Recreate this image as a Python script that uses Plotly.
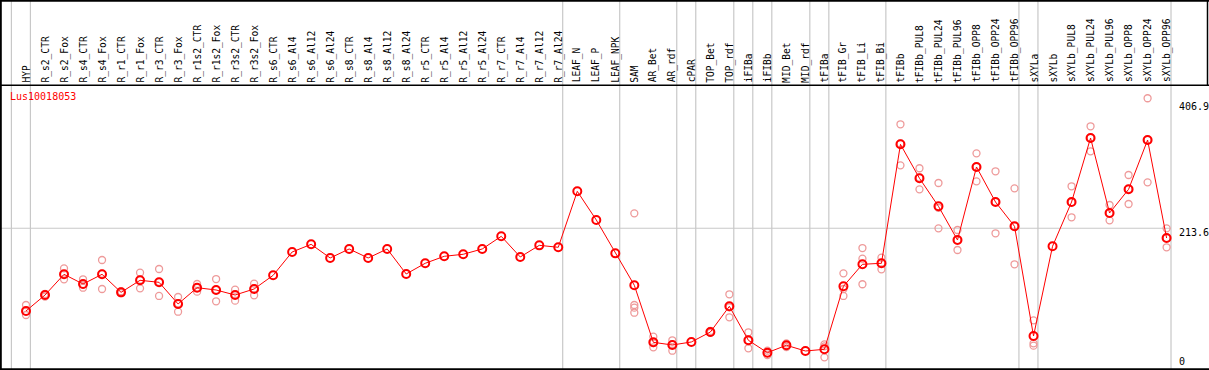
import plotly.graph_objects as go

categories = ["HYP", "R_s2_CTR", "R_s2_Fox", "R_s4_CTR", "R_s4_Fox", "R_r1_CTR", "R_r1_Fox",
              "R_r3_CTR", "R_r3_Fox", "R_r1s2_CTR", "R_r1s2_Fox", "R_r3s2_CTR", "R_r3s2_Fox",
              "R_s6_CTR", "R_s6_Al4", "R_s6_Al12", "R_s6_Al24", "R_s8_CTR", "R_s8_Al4",
              "R_s8_Al12", "R_s8_Al24", "R_r5_CTR", "R_r5_Al4", "R_r5_Al12", "R_r5_Al24",
              "R_r7_CTR", "R_r7_Al4", "R_r7_Al12", "R_r7_Al24", "LEAF_N", "LEAF_P", "LEAF_NPK",
              "SAM", "AR_Bet", "AR_rdf", "cPAR", "TOP_Bet", "TOP_rdf", "iFIBa", "iFIBb",
              "MID_Bet", "MID_rdf", "tFIBa", "tFIB_Gr", "tFIB_Li", "tFIB_Bi", "tFIBb",
              "tFIBb_PUL8", "tFIBb_PUL24", "tFIBb_PUL96", "tFIBb_OPP8", "tFIBb_OPP24",
              "tFIBb_OPP96", "sXYLa", "sXYLb", "sXYLb_PUL8", "sXYLb_PUL24", "sXYLb_PUL96",
              "sXYLb_OPP8", "sXYLb_OPP24", "sXYLb_OPP96"]

means = [90.6, 114.3, 145.1, 130.7, 145.1, 118.3, 136.2, 133.2, 101.0, 125.2,
         121.8, 114.3, 123.3, 143.6, 178.3, 189.7, 169.4, 182.8, 169.4, 182.8,
         145.6, 161.5, 171.9, 174.9, 182.8, 201.6, 170.9, 188.2, 185.3, 268.5,
         225.9, 176.3, 128.8, 44.0, 40.0, 44.5, 59.3, 97.5, 47.0, 28.6,
         39.6, 31.1, 33.6, 127.3, 160.0, 161.5, 338.4, 287.9, 246.2, 196.1,
         304.7, 252.6, 216.5, 53.4, 186.8, 252.6, 347.8, 236.3, 271.5, 344.8,
         199.1]

replicates = [
    [99.5, 90, 84.6], [116, 114, 112], [154, 145, 137.7], [137.7, 130, 125.2],
    [166.4, 146, 123.3], [120, 118, 117], [147.5, 137, 124.3], [153, 134, 112.9],
    [111.4, 102, 89.5], [130.7, 125, 119.3], [138.1, 122, 105], [122.2, 115, 105.9],
    [131.2, 124, 113.9],
    [], [], [], [], [], [], [], [], [], [], [], [], [], [], [], [], [], [], [],
    [235.8, 99.5, 95.5, 88], [52.4, 43, 36.6], [47, 41, 31.5], [], [61, 59, 58],
    [115.4, 96, 81.2], [58.9, 47, 35.1], [31.5, 28, 25.1], [42.5, 39, 37], [],
    [41, 38, 21.7], [146.6, 123.3, 112.9], [184.2, 168.3, 130.3], [169.8, 162, 152.6],
    [368.2, 339.8, 307.2], [302.8, 289, 271.5], [280.9, 244, 213.5], [211, 196, 181.3],
    [325, 305, 283.4], [298.3, 253, 206.1], [273, 216.5, 160], [76.7, 42.5, 39], [],
    [276, 252, 229.9], [365.2, 348, 328], [248.2, 236, 225.4], [292.8, 272, 249.7],
    [406.9, 345, 281.9], [213.5, 199, 185.3],
]

# indices after which a group separator is drawn
group_ends = [-1, 0, 28, 31, 34, 35, 37, 38, 39, 41, 42, 45, 52, 53, 60]

gene_name = "Lus10018053"
axis_labels = ["406.9", "213.6", "0"]
ref_value = 213.6

W, H = 1209, 370
xs = list(range(len(categories)))

rep_x, rep_y = [], []
for i, vals in enumerate(replicates):
    for v in vals:
        rep_x.append(i)
        rep_y.append(v)

fig = go.Figure()
fig.add_trace(go.Scatter(x=rep_x, y=rep_y, mode="markers",
                         marker=dict(symbol="circle-open", size=7, color="#ee9a9a",
                                     line=dict(width=1.3, color="#ee9a9a")),
                         hoverinfo="skip", showlegend=False))
fig.add_trace(go.Scatter(x=xs, y=means, mode="lines+markers",
                         line=dict(color="#ff0000", width=1),
                         marker=dict(symbol="circle-open", size=8, color="#ff0000",
                                     line=dict(width=2, color="#ff0000")),
                         hoverinfo="skip", showlegend=False))

px_per_cat = 19.01
x0_px = 26.0
xr = [(0 - x0_px) / px_per_cat, (W - x0_px) / px_per_cat]
# y mapping: value -> pixel
y_zero_px = 371.9
px_per_unit = 0.6725
yr = [(y_zero_px - H) / px_per_unit, y_zero_px / px_per_unit]

shapes = []
for g in group_ends:
    shapes.append(dict(type="line", xref="x", yref="paper", x0=g + 0.232, x1=g + 0.232,
                       y0=0, y1=1, line=dict(color="#c8c8c8", width=1.2), layer="below"))
shapes.append(dict(type="line", xref="x", yref="y", x0=xr[0], x1=60.232, y0=ref_value,
                   y1=ref_value, line=dict(color="#c8c8c8", width=1.2), layer="below"))
# black frame lines
for ypx, w in [(0.8, 2), (85.3, 1.5), (369.2, 2)]:
    shapes.append(dict(type="line", xref="paper", yref="paper", x0=0, x1=1,
                       y0=1 - ypx / H, y1=1 - ypx / H, line=dict(color="black", width=w)))
shapes.append(dict(type="line", xref="paper", yref="paper", x0=0.8 / W, x1=0.8 / W,
                   y0=0, y1=1, line=dict(color="black", width=2)))
shapes.append(dict(type="line", xref="paper", yref="paper", x0=1 - 1.5 / W, x1=1 - 1.5 / W,
                   y0=1 - 85.3 / H, y1=1, line=dict(color="black", width=1.5)))

mono = "DejaVu Sans Mono"
annotations = []
for i, c in enumerate(categories):
    annotations.append(dict(x=i, y=1 - 83.5 / H, xref="x", yref="paper", text=c,
                            textangle=-90, showarrow=False, xanchor="center", yanchor="bottom",
                            font=dict(family=mono, size=9.6, color="black"), borderpad=0))
annotations.append(dict(x=9 / W, y=1 - 96.5 / H, xref="paper", yref="paper", text=gene_name,
                        showarrow=False, xanchor="left", yanchor="middle",
                        font=dict(family=mono, size=10, color="#ff0000"), borderpad=0))
for lab, ypx in zip(axis_labels, [106.5, 232.5, 361.7]):
    annotations.append(dict(x=1178 / W, y=1 - ypx / H, xref="paper", yref="paper", text=lab,
                            showarrow=False, xanchor="left", yanchor="middle",
                            font=dict(family=mono, size=10, color="black"), borderpad=0))

fig.update_layout(
    width=W, height=H, margin=dict(l=0, r=0, t=0, b=0),
    paper_bgcolor="white", plot_bgcolor="white",
    xaxis=dict(range=xr, visible=False, showgrid=False, zeroline=False, fixedrange=True),
    yaxis=dict(range=yr, visible=False, showgrid=False, zeroline=False, fixedrange=True),
    shapes=shapes, annotations=annotations, showlegend=False, hovermode=False,
)

fig.write_html("out.html", config={"displayModeBar": False},
               post_script="document.body.style.margin='0';document.body.style.overflow='hidden';")
